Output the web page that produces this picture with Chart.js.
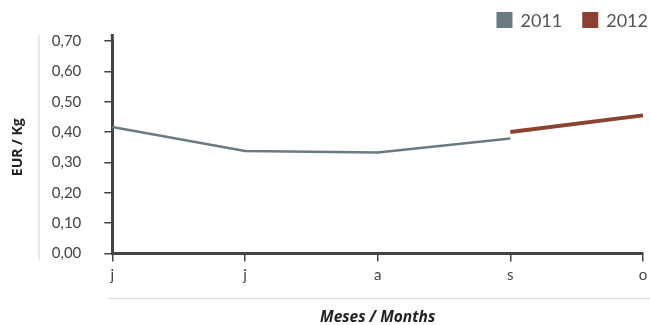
<!DOCTYPE html>
<html>
<head>
<meta charset="utf-8">
<script src="https://cdn.jsdelivr.net/npm/chart.js@4/dist/chart.umd.min.js"></script>
<style>
html,body{margin:0;padding:0;background:#fff;}
#wrap{width:650px;height:325px;position:relative;}
</style>
</head>
<body>
<div id="wrap"><canvas id="c" width="650" height="325"></canvas></div>
<script>
const categories = ['j', 'j', 'a', 's', 'o'];
const series2011 = [0.417, 0.338, 0.333, 0.379, null];
const series2012 = [null, null, null, 0.400, 0.455];
const yTickValues = [0, 0.1, 0.2, 0.3, 0.4, 0.5, 0.6, 0.7];
const yTickLabels = ['0,00', '0,10', '0,20', '0,30', '0,40', '0,50', '0,60', '0,70'];
const seriesNames = ['2011', '2012'];
const seriesColors = ['#6a7a83', '#8c4233'];
const yTitle = 'EUR / Kg';
const xTitle = 'Meses / Months';

const FONT = 'Lato, "Open Sans", sans-serif';
const TFONT = '"Open Sans", Lato, sans-serif';

const decor = {
  id: 'decor',
  beforeDraw(chart) {
    const ctx = chart.ctx;
    const a = chart.chartArea;
    ctx.save();
    ctx.strokeStyle = '#e2e2e2';
    ctx.lineWidth = 1.5;
    ctx.beginPath();
    ctx.moveTo(39, a.top - 6);
    ctx.lineTo(39, a.bottom + 7);
    ctx.stroke();
    ctx.beginPath();
    ctx.moveTo(a.left - 5, a.bottom + 45);
    ctx.lineTo(chart.width, a.bottom + 45);
    ctx.stroke();
    ctx.restore();
  },
  afterDraw(chart) {
    const ctx = chart.ctx;
    const a = chart.chartArea;
    ctx.save();
    ctx.strokeStyle = '#444';
    ctx.lineWidth = 3;
    ctx.beginPath();
    ctx.moveTo(a.left, a.top - 7);
    ctx.lineTo(a.left, a.top + 1);
    ctx.stroke();
    ctx.font = '18px ' + FONT;
    ctx.textBaseline = 'middle';
    ctx.textAlign = 'left';
    const box = 16, gapText = 8, gapItem = 20;
    const items = chart.data.datasets.map((d, i) => ({ text: d.label, color: seriesColors[i], w: ctx.measureText(d.label).width }));
    let total = 0;
    items.forEach((it, i) => { total += box + gapText + it.w + (i < items.length - 1 ? gapItem : 0); });
    let x = chart.width - 2 - total;
    const yc = 20;
    items.forEach(it => {
      ctx.fillStyle = it.color;
      ctx.fillRect(x, yc - box / 2, box, box);
      x += box + gapText;
      ctx.fillStyle = '#555';
      ctx.fillText(it.text, x, yc + 1);
      x += it.w + gapItem;
    });
    ctx.restore();
  }
};

new Chart(document.getElementById('c'), {
  type: 'line',
  data: {
    labels: categories,
    datasets: [
      { label: seriesNames[0], data: series2011, borderColor: seriesColors[0], backgroundColor: seriesColors[0], borderWidth: 2.5, pointRadius: 0, tension: 0, spanGaps: false },
      { label: seriesNames[1], data: series2012, borderColor: seriesColors[1], backgroundColor: seriesColors[1], borderWidth: 4, pointRadius: 0, tension: 0, spanGaps: false }
    ]
  },
  options: {
    responsive: false,
    animation: false,
    layout: { padding: { left: 10, right: 0, top: 41, bottom: 0 } },
    plugins: {
      legend: { display: false },
      tooltip: { enabled: false }
    },
    scales: {
      x: {
        offset: false,
        afterFit(scale) { scale.paddingRight = 7; },
        grid: { drawOnChartArea: false, drawTicks: true, tickLength: 8, color: '#444', lineWidth: 1.5, offset: false },
        border: { display: true, color: '#444', width: 3 },
        ticks: { color: '#444', font: { family: FONT, size: 15 }, padding: 5, maxRotation: 0 },
        title: { display: true, text: xTitle, color: '#222', font: { family: TFONT, size: 15.5, weight: 'bold', style: 'italic', lineHeight: 1 }, padding: { top: 20, bottom: 0 } }
      },
      y: {
        min: 0,
        max: 0.7,
        afterBuildTicks(scale) { scale.ticks = yTickValues.map(v => ({ value: v })); },
        grid: { drawOnChartArea: false, drawTicks: true, tickLength: 8, color: '#444', lineWidth: 1.5 },
        border: { display: true, color: '#444', width: 3 },
        ticks: {
          color: '#444',
          font: { family: FONT, size: 15 },
          padding: 23,
          callback(value, index) { return yTickLabels[index]; }
        },
        title: { display: true, text: yTitle, color: '#222', font: { family: TFONT, size: 14, weight: 'bold' }, padding: { top: 0, bottom: 2 } }
      }
    }
  },
  plugins: [decor]
});
</script>
</body>
</html>
